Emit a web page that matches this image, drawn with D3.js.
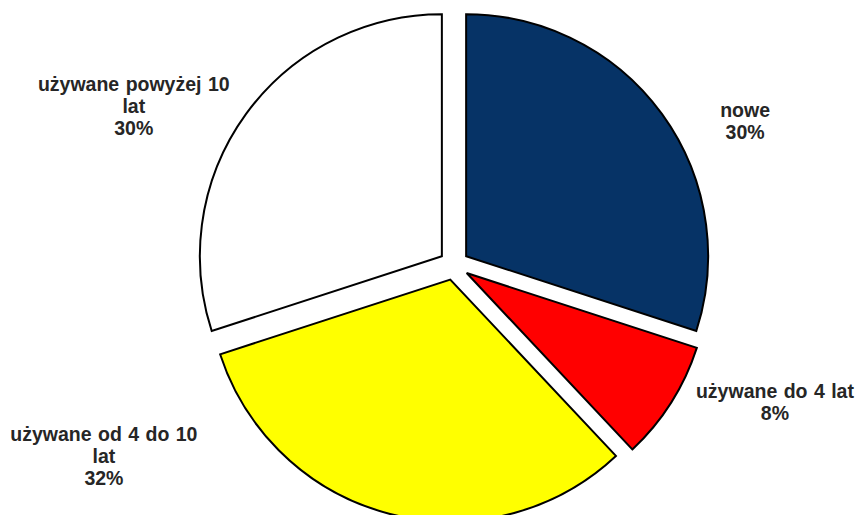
<!DOCTYPE html>
<html>
<head>
<meta charset="utf-8">
<script src="https://cdn.jsdelivr.net/npm/d3@7/dist/d3.min.js"></script>
<style>
  html, body { margin: 0; padding: 0; background: #ffffff; }
  svg { display: block; }
</style>
</head>
<body>
<svg id="chart" width="857" height="515"></svg>
<script>
// Struktura pojazdów według wieku
const categories = ["nowe", "używane do 4 lat", "używane od 4 do 10 lat", "używane powyżej 10 lat"];
const values = [30, 8, 32, 30];
const colors = ["#063366", "#ff0000", "#ffff00", "#ffffff"];
// Label lines as printed next to each slice
const labelLines = [
  ["nowe", "30%"],
  ["używane do 4 lat", "8%"],
  ["używane od 4 do 10", "lat", "32%"],
  ["używane powyżej 10", "lat", "30%"]
];

const width = 857, height = 515;
const cx = 454, cy = 265, radius = 242, explode = 15;

const svg = d3.select("#chart");

const pie = d3.pie().value(d => d).sort(null).startAngle(0).endAngle(2 * Math.PI);
const arcs = pie(values);
const arc = d3.arc().innerRadius(0).outerRadius(radius);

const g = svg.append("g").attr("transform", `translate(${cx},${cy})`);

g.selectAll("path")
  .data(arcs)
  .join("path")
  .attr("d", arc)
  .attr("fill", (d, i) => colors[i])
  .attr("stroke", "#000")
  .attr("stroke-width", 2)
  .attr("stroke-linejoin", "miter")
  .attr("transform", d => {
    const a = (d.startAngle + d.endAngle) / 2;
    return `translate(${explode * Math.sin(a)},${-explode * Math.cos(a)})`;
  });

// Label block centres, as radius factor and angle offset from each slice's middle
const labelRadius = [1.342, 1.442, 1.648, 1.477];
const labelAngleShift = [0.169, -0.162, 0.820, -0.168];
const lineH = 22;
const fontSize = 19.5;

arcs.forEach((d, i) => {
  const a = (d.startAngle + d.endAngle) / 2 + labelAngleShift[i];
  const r = radius * labelRadius[i];
  const x = cx + r * Math.sin(a);
  const y = cy - r * Math.cos(a);
  const lines = labelLines[i];
  const t = svg.append("text")
    .attr("x", x)
    .attr("y", y - (lines.length - 1) * lineH / 2)
    .attr("text-anchor", "middle")
    .attr("dominant-baseline", "central")
    .attr("font-family", "'Liberation Sans', Arial, sans-serif")
    .attr("font-weight", "bold")
    .attr("font-size", fontSize)
    .attr("word-spacing", 1)
    .attr("fill", "#262626");
  lines.forEach((ln, k) => {
    t.append("tspan").attr("x", x).attr("dy", k === 0 ? 0 : lineH).text(ln);
  });
});
</script>
</body>
</html>
